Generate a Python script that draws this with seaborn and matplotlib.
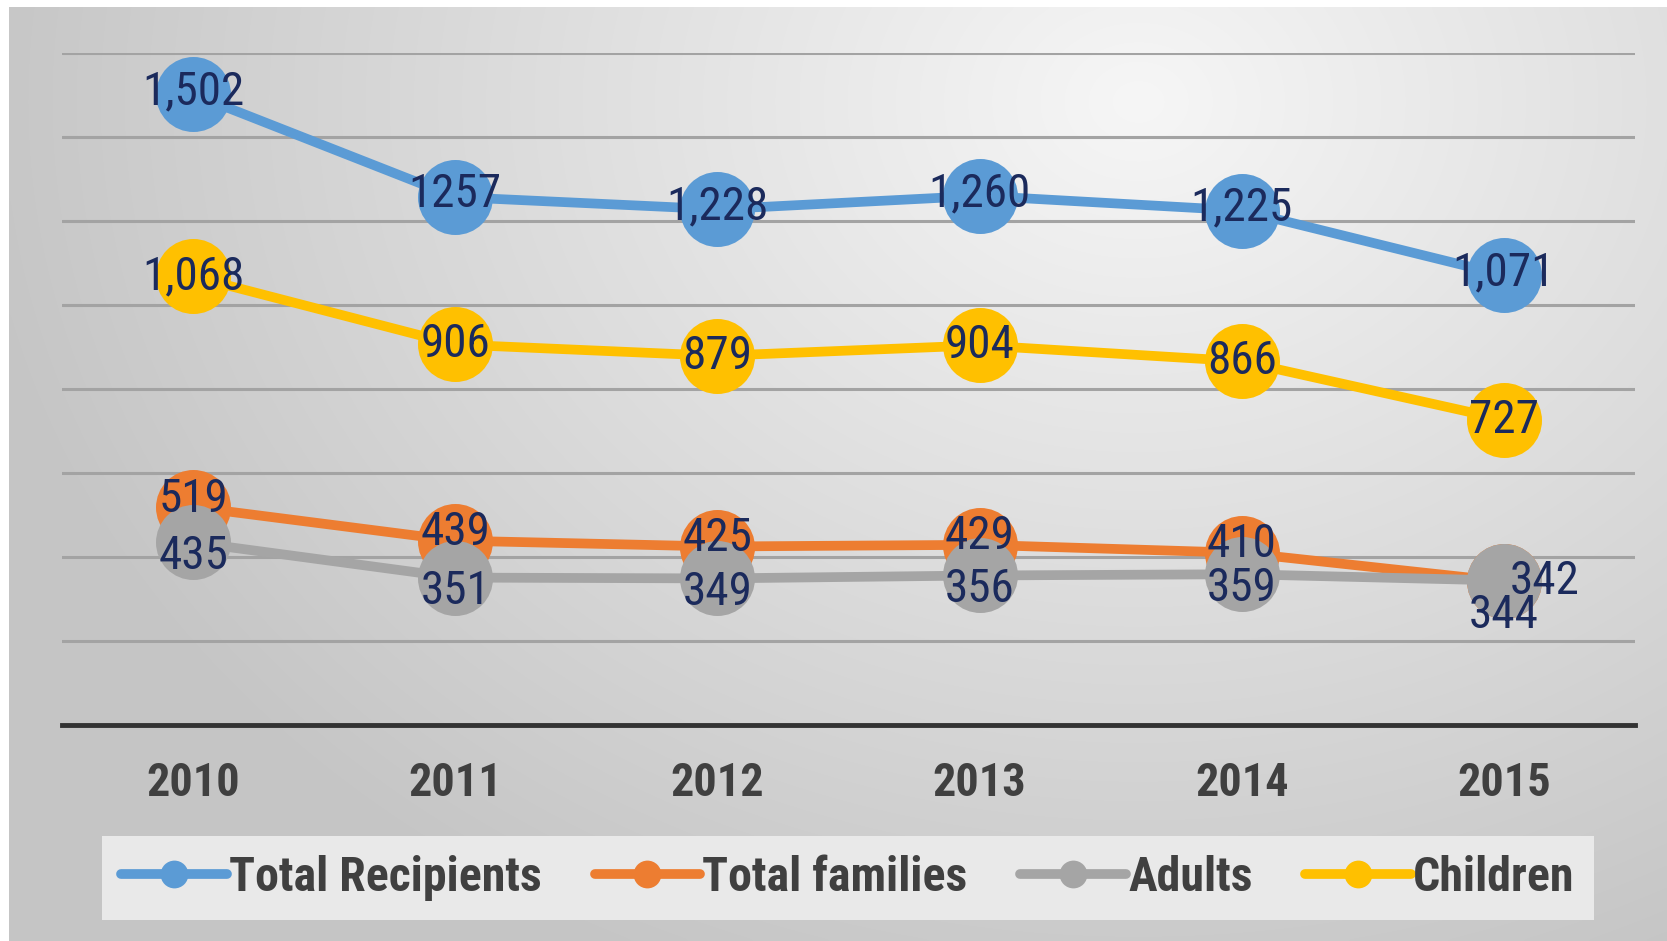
import numpy as np
import pandas as pd
import matplotlib
matplotlib.use("Agg")
import matplotlib.pyplot as plt
from matplotlib.lines import Line2D
from matplotlib import font_manager
import seaborn as sns

years = ["2010", "2011", "2012", "2013", "2014", "2015"]
total_recipients = [1502, 1257, 1228, 1260, 1225, 1071]
total_families = [519, 439, 425, 429, 410, 342]
adults = [435, 351, 349, 356, 359, 344]
children = [1068, 906, 879, 904, 866, 727]
series_names = ["Total Recipients", "Total families", "Adults", "Children"]
colors = ["#5B9BD5", "#ED7D31", "#A5A5A5", "#FFC000"]

sns.set_theme(style="white")

# pick a narrow font if available
fonts = font_manager.fontManager.ttflist
names = {f.name for f in fonts}
stretch = "normal"
if "Liberation Sans Narrow" in names:
    fam, scale = "Liberation Sans Narrow", 1.2
elif "Roboto Condensed" in names:
    fam, scale = "Roboto Condensed", 1.15
elif any(f.name == "DejaVu Sans" and str(f.stretch) in ("condensed", "semi-condensed", "75", "87")
         for f in fonts):
    fam, scale, stretch = "DejaVu Sans", 1.0, "condensed"
elif "Liberation Sans" in names:
    fam, scale = "Liberation Sans", 1.0
else:
    fam, scale = "DejaVu Sans", 0.9
plt.rcParams["font.family"] = [fam, "DejaVu Sans"]
plt.rcParams["font.stretch"] = stretch

rows = []
for name, vals in zip(series_names, [total_recipients, total_families, adults, children]):
    for i, v in enumerate(vals):
        rows.append({"idx": i, "Year": years[i], "Value": v, "Series": name})
df = pd.DataFrame(rows)

fig = plt.figure(figsize=(16.67, 9.41), dpi=100)
fig.patch.set_facecolor("white")

# background radial gradient panel
bg = fig.add_axes([9 / 1667, 0, 1 - 9 / 1667, 1 - 7 / 941])
bg.set_axis_off()
H, W = 300, 520
yy, xx = np.mgrid[0:H, 0:W]
cx, cy = 0.68 * W, 0.10 * H
d = np.sqrt(((xx - cx) / W) ** 2 + ((yy - cy) / H * 0.7) ** 2)
val = np.clip(0.965 - 0.27 * d, 0.775, 0.97)
img = np.dstack([val, val, val])
bg.imshow(img, aspect="auto", extent=[0, 1, 0, 1], interpolation="bicubic")
bg.set_xlim(0, 1)
bg.set_ylim(0, 1)

ax = fig.add_axes([62 / 1667, 1 - 725 / 941, (1635 - 62) / 1667, (725 - 53) / 941])
ax.patch.set_alpha(0)

for yv in range(200, 1601, 200):
    ax.axhline(yv, color="#a3a3a3", lw=2.2, zorder=0)

sns.lineplot(data=df, x="idx", y="Value", hue="Series", hue_order=series_names,
             palette=colors, marker="o", markersize=54, markeredgewidth=0,
             linewidth=7, ax=ax, legend=False, sort=False)

ax.set_xlim(-0.5, 5.5)
ax.set_ylim(0, 1600)
ax.set_yticks([])
ax.set_xticks(range(len(years)))
ax.set_xticklabels(years, fontsize=29 * scale, fontweight="bold", color="#404040")
ax.tick_params(axis="x", length=0, pad=26)
ax.set_xlabel("")
ax.set_ylabel("")
for s in ["top", "right", "left"]:
    ax.spines[s].set_visible(False)
ax.spines["bottom"].set_color("#333333")
ax.spines["bottom"].set_linewidth(3.5)
ax.spines["bottom"].set_zorder(5)

lab_color = "#1b2a5c"
fs = 29.5 * scale
def label(i, v, dx, dy):
    txt = "1257" if v == 1257 else f"{v:,}"
    ax.annotate(txt, (i, v), xytext=(dx, dy),
                textcoords="offset points", ha="center", va="center",
                fontsize=fs, color=lab_color, zorder=10)

for i, v in enumerate(total_recipients):
    label(i, v, 0, 2)
for i, v in enumerate(children):
    label(i, v, 0, 0)
for i, v in enumerate(total_families):
    if i == 5:
        label(i, v, 29, 0)
    else:
        label(i, v, 0, 6)
for i, v in enumerate(adults):
    if i == 5:
        label(i, v, 0, -25)
    else:
        label(i, v, 0, -10)

handles = [Line2D([0], [0], color=c, lw=7, marker="o", markersize=20, markeredgewidth=0)
           for c in colors]
leg = fig.legend(handles, series_names, loc="center", ncol=4,
                 bbox_to_anchor=(848 / 1667, 1 - 878 / 941),
                 frameon=True, fancybox=False, facecolor="#e9e9e9", edgecolor="none",
                 framealpha=1, handlelength=2.2, handletextpad=0.05, columnspacing=1.1,
                 borderpad=0.4,
                 prop={"size": 30 * scale, "weight": "bold",
                       "family": [fam, "DejaVu Sans"], "stretch": stretch})
for t in leg.get_texts():
    t.set_color("#404040")

fig.savefig("out.png", dpi=100)
